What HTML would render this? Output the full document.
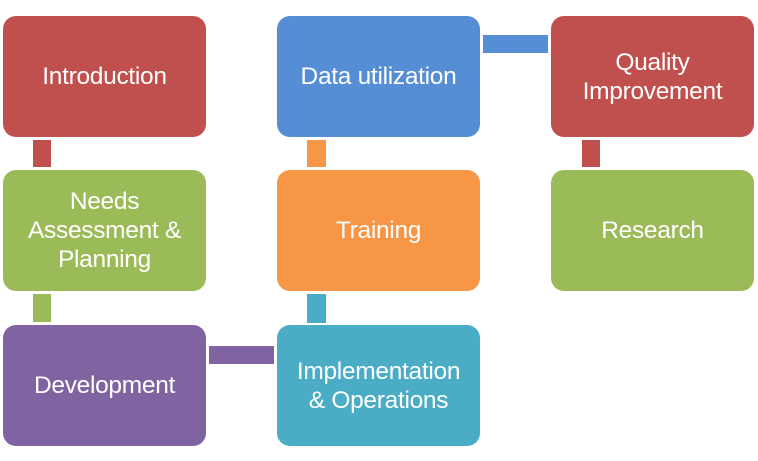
<!DOCTYPE html>
<html><head><style>
body{margin:0;width:758px;height:461px;background:#fff;position:relative;overflow:hidden;font-family:"Liberation Sans",sans-serif}
.b{position:absolute;width:203px;height:121px;border-radius:13px;color:#fff;display:flex;align-items:center;justify-content:center;text-align:center;font-size:24.5px;line-height:29px;letter-spacing:-0.3px}
.c{position:absolute}
</style></head><body>
<div class="c" style="left:33px;top:140px;width:18px;height:27px;background:#C0504D"></div>
<div class="c" style="left:33px;top:294px;width:18px;height:28px;background:#9BBB59"></div>
<div class="c" style="left:209px;top:346px;width:65px;height:18px;background:#8064A2"></div>
<div class="c" style="left:307px;top:294px;width:19px;height:29px;background:#4BACC6"></div>
<div class="c" style="left:307px;top:140px;width:19px;height:27px;background:#F79646"></div>
<div class="c" style="left:483px;top:35px;width:65px;height:18px;background:#558ED5"></div>
<div class="c" style="left:582px;top:140px;width:18px;height:27px;background:#C0504D"></div>

<div class="b" style="left:3px;top:16px;background:#C0504D">Introduction</div>
<div class="b" style="left:3px;top:170px;background:#9BBB59">Needs<br>Assessment &amp;<br>Planning</div>
<div class="b" style="left:3px;top:325px;background:#8064A2">Development</div>
<div class="b" style="left:277px;top:16px;background:#558ED5">Data utilization</div>
<div class="b" style="left:277px;top:170px;background:#F79646">Training</div>
<div class="b" style="left:277px;top:325px;background:#4BACC6">Implementation<br>&amp; Operations</div>
<div class="b" style="left:551px;top:16px;background:#C0504D">Quality<br>Improvement</div>
<div class="b" style="left:551px;top:170px;background:#9BBB59">Research</div>
</body></html>
